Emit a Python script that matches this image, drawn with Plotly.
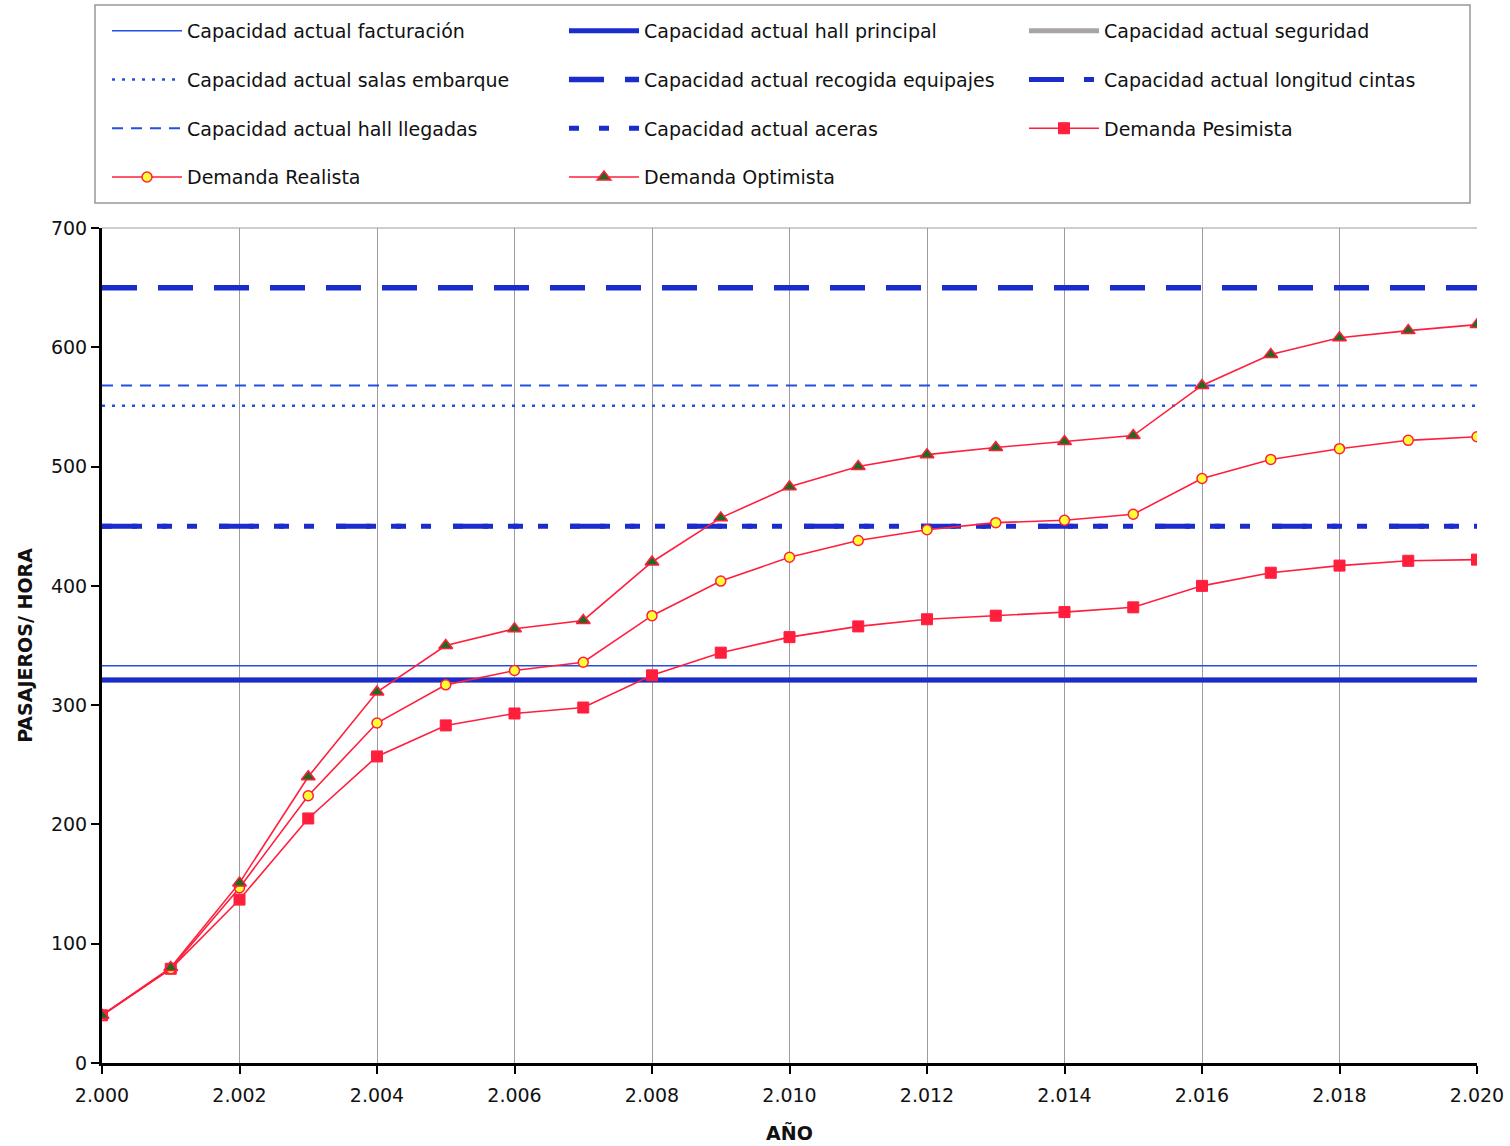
import plotly.graph_objects as go

years = list(range(2000, 2021))
tick_vals = list(range(2000, 2021, 2))
tick_text = ["2.000", "2.002", "2.004", "2.006", "2.008", "2.010",
             "2.012", "2.014", "2.016", "2.018", "2.020"]

cap_facturacion = 333
cap_hall_principal = 321
cap_seguridad = 321
cap_salas_embarque = 551
cap_recogida_equipajes = 650
cap_longitud_cintas = 450
cap_hall_llegadas = 568
cap_aceras = 450

dem_pesimista = [40, 79, 137, 205, 257, 283, 293, 298, 325, 344, 357,
                 366, 372, 375, 378, 382, 400, 411, 417, 421, 422]
dem_realista = [40, 79, 147, 224, 285, 317, 329, 336, 375, 404, 424,
                438, 447, 453, 455, 460, 490, 506, 515, 522, 525]
dem_optimista = [40, 80, 151, 240, 311, 350, 364, 371, 420, 457, 483,
                 500, 510, 516, 521, 526, 568, 594, 608, 614, 619]

FONT = "DejaVu Sans"
BLUE = "#2350e0"
DBLUE = "#1a2ccc"
RED = "#ff1f3d"

fig = go.Figure()

def hline(name, val, color, width, dash, legend):
    fig.add_trace(go.Scatter(
        x=years, y=[val] * len(years), mode="lines", name=name,
        line=dict(color=color, width=width, dash=dash),
        legend=legend, legendgroup=name, hoverinfo="skip"))

hline("Capacidad actual seguridad", cap_seguridad, "#a8a4a8", 5, "solid", "legend3")
hline("Capacidad actual facturación", cap_facturacion, BLUE, 1.5, "solid", "legend")
hline("Capacidad actual hall principal", cap_hall_principal, DBLUE, 5, "solid", "legend2")
hline("Capacidad actual salas embarque", cap_salas_embarque, BLUE, 2.5, "3px,7px", "legend")
hline("Capacidad actual recogida equipajes", cap_recogida_equipajes, DBLUE, 5.5, "35px,21px", "legend2")
hline("Capacidad actual longitud cintas", cap_longitud_cintas, DBLUE, 5, "35px,20px,10px,20px,10px,22px", "legend3")
hline("Capacidad actual hall llegadas", cap_hall_llegadas, BLUE, 2, "11px,8px", "legend")
hline("Capacidad actual aceras", cap_aceras, DBLUE, 5, "10px,20px,10px,20px,10px,47px", "legend2")

fig.add_trace(go.Scatter(
    x=years, y=dem_pesimista, mode="lines+markers", name="Demanda Pesimista",
    line=dict(color=RED, width=1.6),
    marker=dict(symbol="square", size=11, color=RED, line=dict(color=RED, width=1)),
    legend="legend3", legendgroup="pes", hoverinfo="skip"))
fig.add_trace(go.Scatter(
    x=years, y=dem_realista, mode="lines+markers", name="Demanda Realista",
    line=dict(color=RED, width=1.6),
    marker=dict(symbol="circle", size=10, color="#ffff33", line=dict(color=RED, width=1.5)),
    legend="legend", legendgroup="rea", hoverinfo="skip"))
fig.add_trace(go.Scatter(
    x=years, y=dem_optimista, mode="lines+markers", name="Demanda Optimista",
    line=dict(color=RED, width=1.6),
    marker=dict(symbol="triangle-up", size=12, color="#1f6b1f", line=dict(color=RED, width=1.5)),
    legend="legend2", legendgroup="opt", hoverinfo="skip"))

W, H = 1510, 1146
ml, mr, mt, mb = 102, 33, 228, 83
pw, ph = W - ml - mr, H - mt - mb

def px2x(px):
    return (px - ml) / pw

def px2y(py):
    return (H - mb - py) / ph

leg_common = dict(
    orientation="v", xanchor="left", yanchor="top",
    font=dict(family=FONT, size=19, color="#111"),
    bgcolor="rgba(0,0,0,0)", borderwidth=0, itemwidth=70,
    tracegroupgap=21, traceorder="grouped")

fig.update_layout(
    width=W, height=H,
    margin=dict(l=ml, r=mr, t=mt, b=mb, autoexpand=False),
    paper_bgcolor="white", plot_bgcolor="white",
    font=dict(family=FONT, size=19, color="#111"),
    showlegend=True,
    legend=dict(x=px2x(107), y=px2y(12), **leg_common),
    legend2=dict(x=px2x(564), y=px2y(12), **leg_common),
    legend3=dict(x=px2x(1024), y=px2y(12), **leg_common),
    xaxis=dict(
        range=[2000, 2020], tickmode="array", tickvals=tick_vals, ticktext=tick_text,
        showgrid=True, gridcolor="#a09aa0", gridwidth=1,
        showline=True, linecolor="black", linewidth=3,
        ticks="outside", ticklen=8, tickwidth=2, tickcolor="black",
        ticklabelstandoff=5, automargin=False,
        tickfont=dict(family=FONT, size=19, color="#111"),
        title=dict(text="<b>AÑO</b>", font=dict(family=FONT, size=19, color="#111"), standoff=22),
        zeroline=False, fixedrange=True),
    yaxis=dict(
        range=[0, 700], dtick=100, showgrid=False,
        showline=True, linecolor="black", linewidth=3,
        ticks="outside", ticklen=8, tickwidth=2, tickcolor="black",
        automargin=False,
        tickfont=dict(family=FONT, size=19, color="#111"),
        title=dict(text="<b>PASAJEROS/ HORA</b>", font=dict(family=FONT, size=19, color="#111"), standoff=14),
        zeroline=False, fixedrange=True),
    shapes=[
        dict(type="rect", xref="paper", yref="paper",
             x0=px2x(95), x1=px2x(1470), y0=px2y(203), y1=px2y(5),
             line=dict(color="#9a969a", width=1.5), fillcolor="rgba(0,0,0,0)"),
        dict(type="line", xref="paper", yref="paper", x0=0, x1=1, y0=1, y1=1,
             line=dict(color="#a09aa0", width=1)),
    ],
)

fig.write_html("out.html")
